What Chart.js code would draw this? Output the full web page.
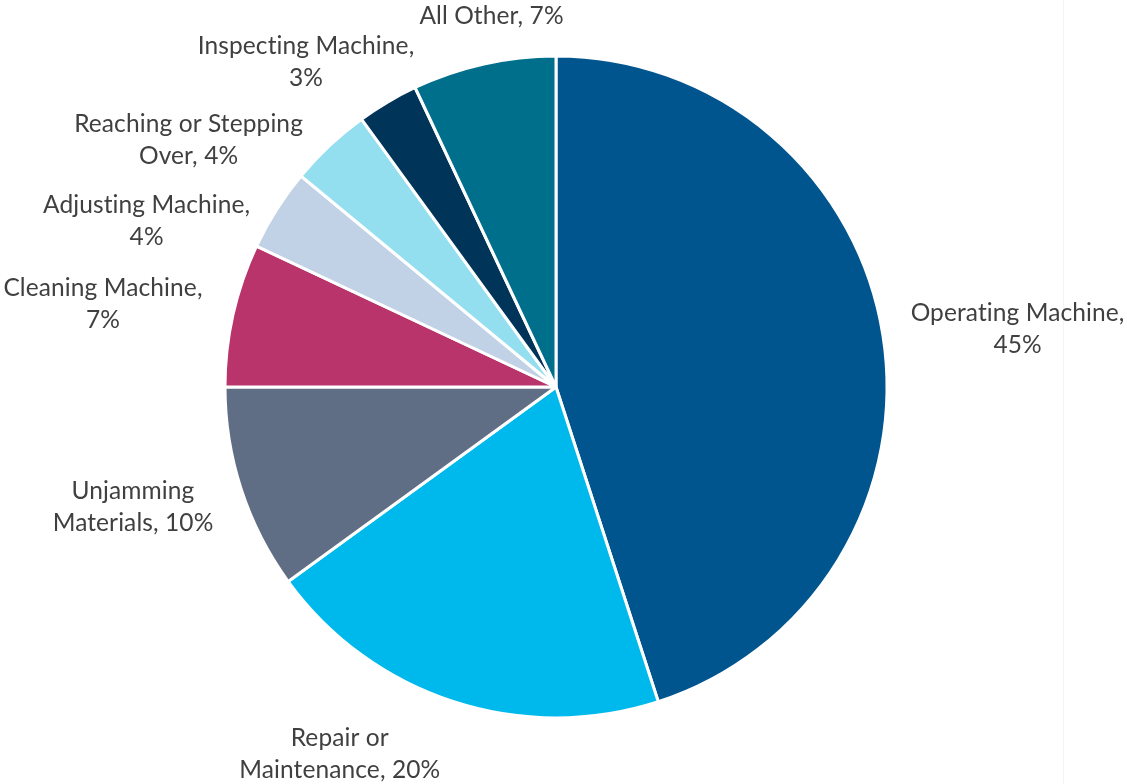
<!DOCTYPE html>
<html>
<head>
<meta charset="utf-8">
<script src="https://cdn.jsdelivr.net/npm/chart.js@4.4.1/dist/chart.umd.min.js"></script>
<style>
  html, body { margin: 0; padding: 0; background: #fff; }
  #wrap { position: relative; width: 1127px; height: 784px; }
  #edge { position: absolute; left: 1063px; top: 0; width: 1px; height: 784px; background: #f4f4f4; z-index: 0; }
  #pieChart { position: relative; z-index: 1; }
</style>
</head>
<body>
<div id="wrap">
  <div id="edge"></div>
  <canvas id="pieChart"></canvas>
</div>
<script>
// data (percent of cases)
const categories = [
  "Operating Machine",
  "Repair or Maintenance",
  "Unjamming Materials",
  "Cleaning Machine",
  "Adjusting Machine",
  "Reaching or Stepping Over",
  "Inspecting Machine",
  "All Other"
];
const shares = [45, 20, 10, 7, 4, 4, 3, 7];

const sliceColors = [
  "#00558f", "#00b9ec", "#5f6e84", "#b8346a",
  "#c1d1e6", "#93dfef", "#003459", "#006f8c"
];

// how many words go on the first line of each label
const firstLineWords = [2, 2, 1, 2, 2, 3, 2, 3];
// small hand nudges so the labels sit where the original put them
const labelNudge = [
  [4, 3], [-6, -1], [-5, 1], [-7, 2],
  [-6, 41], [-10, 35], [39, 8], [68, -9]
];

const FONT = "24.5px Lato, 'Open Sans', sans-serif";
const LINE_H = 32;
const GAP = 24;

const outsideLabels = {
  id: "outsideLabels",
  afterDraw(chart) {
    const ctx = chart.ctx;
    const meta = chart.getDatasetMeta(0);
    ctx.save();
    ctx.font = FONT;
    ctx.letterSpacing = "0.1px"; // stops Lato's "ti" ligature
    ctx.fillStyle = "#404040";
    ctx.textAlign = "center";
    ctx.textBaseline = "middle";
    meta.data.forEach((arc, i) => {
      const { x, y, startAngle, endAngle, outerRadius } = arc.getProps(
        ["x", "y", "startAngle", "endAngle", "outerRadius"], true);
      const mid = (startAngle + endAngle) / 2;
      const ux = Math.cos(mid), uy = Math.sin(mid);
      const px = x + (outerRadius + GAP) * ux;
      const py = y + (outerRadius + GAP) * uy;

      const words = (categories[i] + ", " + shares[i] + "%").split(" ");
      const n = firstLineWords[i];
      const lines = [words.slice(0, n).join(" ")];
      if (n < words.length) lines.push(words.slice(n).join(" "));

      const w = Math.max(...lines.map(l => ctx.measureText(l).width));
      const h = lines.length * LINE_H;
      const ax = Math.max(-1, Math.min(1, ux * 3.5));
      const cx = px + ax * w / 2 + labelNudge[i][0];
      const cy = py + uy * h / 2 + labelNudge[i][1];
      lines.forEach((line, k) => {
        ctx.fillText(line, cx, cy - h / 2 + LINE_H * (k + 0.5));
      });
    });
    ctx.restore();
  }
};

new Chart(document.getElementById("pieChart"), {
  type: "pie",
  data: {
    labels: categories,
    datasets: [{
      data: shares,
      backgroundColor: sliceColors,
      borderColor: "#ffffff",
      borderWidth: 3
    }]
  },
  options: {
    responsive: true,
    maintainAspectRatio: false,
    animation: false,
    radius: 331,
    layout: { padding: { left: 200, right: 215, top: 56, bottom: 66 } },
    plugins: {
      legend: { display: false },
      tooltip: { enabled: false }
    }
  },
  plugins: [outsideLabels]
});
</script>
</body>
</html>
